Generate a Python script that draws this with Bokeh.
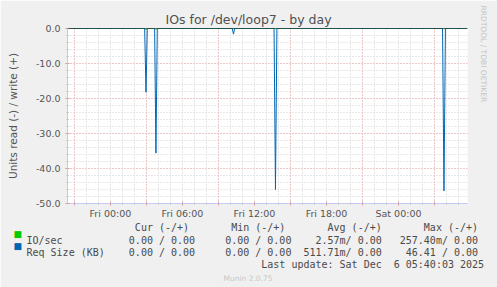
from bokeh.plotting import figure
from bokeh.models import (Range1d, FixedTicker, Span, Grid, PrintfTickFormatter, Title)
from bokeh.embed import file_html
from bokeh.resources import INLINE

# ---------------- data ----------------
# time axis: hours relative to Fri 00:00
time_start = -3.58
time_end = 29.75

# Req Size (KB), read side drawn negative
read_t = [-3.58, 2.85, 2.96, 3.07, 3.68, 3.79, 3.90, 10.15, 10.25, 10.35,
          13.63, 13.75, 13.87, 27.67, 27.79, 27.91, 29.75]
read_v = [0, 0, -18.2, 0, 0, -35.6, 0, 0, -1.6, 0,
          0, -46.0, 0, 0, -46.41, 0, 0]

# IO/sec, read side drawn negative
io_t = [-3.58, 2.85, 2.96, 3.07, 3.68, 3.79, 3.90, 13.63, 13.75, 13.87,
        27.67, 27.79, 27.91, 29.75]
io_v = [0, 0, -0.257, 0, 0, -0.2, 0, 0, -0.05, 0, 0, -0.05, 0, 0]

x_label_ticks = [0, 6, 12, 18, 24]
x_label_text = ["Fri 00:00", "Fri 06:00", "Fri 12:00", "Fri 18:00", "Sat 00:00"]
x_major_grid = [-3, 3, 9, 15, 21, 27]
y_ticks = [-50, -40, -30, -20, -10, 0]
y_major_grid = [-40, -30, -20, -10]

title_text = "IOs for /dev/loop7 - by day"
y_axis_title = "Units read (-) / write (+)"
legend_header = ["Cur (-/+)", "Min (-/+)", "Avg (-/+)", "Max (-/+)"]
series_names = ["IO/sec", "Req Size (KB)"]
series_colors = ["#00CC00", "#0066B3"]
cur_vals = ["0.00 / 0.00", "0.00 / 0.00"]
min_vals = ["0.00 / 0.00", "0.00 / 0.00"]
avg_vals = ["2.57m/ 0.00", "511.71m/ 0.00"]
max_vals = ["257.40m/ 0.00", "46.41 / 0.00"]
last_update = "Last update: Sat Dec  6 05:40:03 2025"
munin_version = "Munin 2.0.75"
side_text = "RRDTOOL / TOBI OETIKER"

# ---------------- layout ----------------
W, H = 497, 287
FL, FR, FT, FB = 67, 30, 28, 84   # frame borders

AXIS_COL = "#c4c8f4"
TXT = "#4a4a4a"
FONT = "DejaVu Sans"
MONO = "DejaVu Sans Mono"

p = figure(width=W, height=H, output_backend="svg", toolbar_location=None,
           x_range=Range1d(time_start, time_end), y_range=Range1d(-50, 0),
           min_border_left=FL, min_border_right=FR, min_border_top=FT,
           min_border_bottom=FB)
p.border_fill_color = "#F0F0F0"
p.background_fill_color = "white"
p.outline_line_color = None

# grids
hour_ticks = list(range(-3, 30))
p.xgrid.ticker = FixedTicker(ticks=hour_ticks)
p.xgrid.grid_line_color = "#d0d0d0"
p.xgrid.grid_line_dash = "1 2"
p.ygrid.ticker = FixedTicker(ticks=list(range(-50, 1, 2)))
p.ygrid.grid_line_color = "#d0d0d0"
p.ygrid.grid_line_dash = "1 2"
p.add_layout(Grid(dimension=0, ticker=FixedTicker(ticks=x_major_grid),
                  grid_line_color="#eaa8a8", grid_line_dash="1 2"))
p.add_layout(Grid(dimension=1, ticker=FixedTicker(ticks=y_major_grid),
                  grid_line_color="#eaa8a8", grid_line_dash="1 2"))

# x axis
xa = p.xaxis[0]
xticks = sorted(x_label_ticks + x_major_grid)
xa.ticker = FixedTicker(ticks=xticks, minor_ticks=hour_ticks)
overrides = {t: "" for t in x_major_grid}
overrides.update({t: s for t, s in zip(x_label_ticks, x_label_text)})
xa.major_label_overrides = overrides
xa.axis_line_color = AXIS_COL
xa.major_tick_line_color = "#e08080"
xa.major_tick_in = 2
xa.major_tick_out = 2
xa.minor_tick_line_color = "#c0c0c0"
xa.minor_tick_in = 1
xa.minor_tick_out = 1
xa.major_label_standoff = 2
xa.major_label_text_font = FONT
xa.major_label_text_font_size = "9.5px"
xa.major_label_text_color = "#555555"

# y axis
ya = p.yaxis[0]
ya.ticker = FixedTicker(ticks=y_ticks, minor_ticks=list(range(-50, 1, 2)))
ya.formatter = PrintfTickFormatter(format="%.1f")
ya.axis_line_color = AXIS_COL
ya.major_tick_line_color = "#e08080"
ya.major_tick_in = 2
ya.major_tick_out = 2
ya.minor_tick_line_color = "#c0c0c0"
ya.minor_tick_in = 1
ya.minor_tick_out = 1
ya.major_label_standoff = 5
ya.major_label_text_font = FONT
ya.major_label_text_font_size = "9.5px"
ya.major_label_text_color = "#555555"
ya.axis_label = y_axis_title
ya.axis_label_text_font = FONT
ya.axis_label_text_font_size = "10.5px"
ya.axis_label_text_font_style = "normal"
ya.axis_label_text_color = "#555555"
ya.axis_label_standoff = 14

# data lines
p.line(io_t, io_v, line_color=series_colors[0], line_width=1)
p.line(read_t, read_v, line_color=series_colors[1], line_width=1)
p.add_layout(Span(location=0, dimension="width", line_color="black", line_width=1))

# title
p.title = Title(text=title_text, align="left", offset=98, standoff=3,
                text_font=FONT, text_font_size="12.5px", text_font_style="normal",
                text_color="#505050")

# side text (right panel, reads top to bottom)
p.add_layout(Title(text=side_text, align="left", offset=-23, standoff=18,
                   vertical_align="top",
                   text_font=FONT, text_font_size="7.5px", text_font_style="normal",
                   text_color="#c4c4c4"), "right")


# ---------------- legend rows (monospace columns) ----------------
def row(segments):
    s = ""
    for col, txt in segments:
        s += "\u00a0" * max(col - len(s), 0) + txt
    return s


def keep_spaces(s):
    return s.replace("  ", " \u00a0")


header_row = row(list(zip([18, 34, 50, 66], legend_header)))
rows = []
for i in range(2):
    rows.append(row([(0, series_names[i]), (17, cur_vals[i]), (33, min_vals[i]),
                     (59 - len(avg_vals[i]), avg_vals[i]),
                     (75 - len(max_vals[i]), max_vals[i])]))
update_row = row([(76 - len(last_update), keep_spaces(last_update))])

MONO_H = 11.64   # line box of 10px DejaVu Sans Mono
SQ_H = 10.48     # line box of 9px DejaVu Sans


def below_text(text, offset, standoff, font=MONO, size="10px", color=TXT):
    p.add_layout(Title(text=text, align="left", offset=offset, standoff=standoff,
                       vertical_align="top", text_font=font, text_font_size=size,
                       text_font_style="normal", text_color=color), "below")


below_text(header_row, -41, 15 - 2 - MONO_H)
below_text("\u25A0", -54, -(2 + SQ_H), font=FONT, size="9px", color=series_colors[0])
below_text(rows[0], -41, 13 - 2 - MONO_H)
below_text("\u25A0", -54, -(2 + SQ_H), font=FONT, size="9px", color=series_colors[1])
below_text(rows[1], -41, 12 - 2 - MONO_H)
below_text(update_row, -41, 15.4 - 2 - MONO_H)
below_text(munin_version, 156, 0, font=FONT, size="7.5px", color="#c8c8c8")

open("out.html", "w").write(file_html(p, INLINE))
